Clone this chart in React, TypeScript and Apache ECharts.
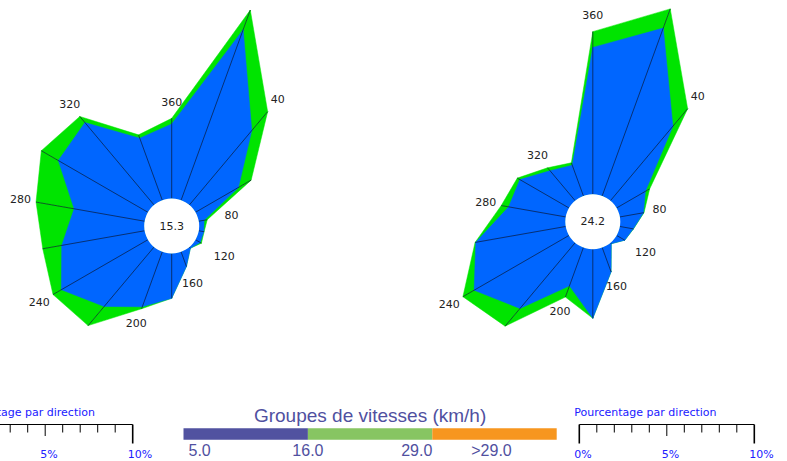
import React, { useEffect, useRef } from 'react';
import * as echarts from 'echarts';

// ---------- data ----------
const DIRECTIONS = [0, 20, 40, 60, 80, 100, 120, 140, 160, 180, 200, 220, 240, 260, 280, 300, 320, 340];

const LEFT_CALM = 15.3;
const LEFT_GROUP1 = [4.26, 10.37, 5.55, 2.83, 0.31, 0.29, 0.31, 0.09, 0.89, 2.56, 3.34, 4.43, 5.71, 4.81, 4.09, 5.91, 6.14, 3.77];
const LEFT_GROUP2 = [0.32, 1.19, 1.41, 0.84, 0.18, 0.02, 0.08, 0.0, 0.0, 0.0, 0.12, 1.43, 0.55, 1.1, 2.21, 1.12, 0.46, 0.2];

const RIGHT_CALM = 24.2;
const RIGHT_GROUP1 = [8.39, 10.2, 5.55, 1.9, 1.37, 0.78, 0.54, 0.07, 1.48, 3.95, 2.33, 4.9, 6.26, 5.22, 3.31, 3.24, 2.23, 1.86];
const RIGHT_GROUP2 = [0.9, 1.17, 1.31, 0.28, 0.03, 0.01, 0.0, 0.0, 0.0, 0.0, 0.68, 1.32, 0.74, 0.04, 0.43, 0.17, 0.22, 0.15];

const SPEED_TITLE = 'Groupes de vitesses (km/h)';
const SPEED_LABELS = ['5.0', '16.0', '29.0', '>29.0'];
const SPEED_COLORS = ['#5152a0', '#87c562', '#f7961f'];

const SCALE_TITLE = 'Pourcentage par direction';
const SCALE_TICKS = [0, 1, 2, 3, 4, 5, 6, 7, 8, 9, 10];
const SCALE_LABELLED = [0, 5, 10];

// ---------- layout / style ----------
const W = 787;
const H = 461;
const PX_PER_PCT = 17.5;
const HOLE_PX = 27.5;
const HOLE_PCT = HOLE_PX / PX_PER_PCT;
const R_MAX_PCT = 13;
const BLUE = '#0066ff';
const GREEN = '#00e400';
const DIR_FONT = '11px "DejaVu Sans"';
const SCALE_BLUE = '#2020ff';
const LEGEND_TEXT = '#5050a0';

const roseRender = (g1: number[], g2: number[]) => (params: any, api: any) => {
  const n = DIRECTIONS.length;
  const i = params.dataIndex;
  const j = (i + 1) % n;
  const a0 = DIRECTIONS[i];
  const a1 = DIRECTIONS[j];
  const t0 = g1[i] + g2[i];
  const t1 = g1[j] + g2[j];
  const p = (r: number, a: number) => api.coord([r, a]);
  const base0 = p(0, a0);
  const tip0 = p(t0, a0);
  return {
    type: 'group',
    children: [
      {
        type: 'polygon',
        z2: 0,
        shape: { points: [p(0, a0), p(t0, a0), p(t1, a1), p(0, a1)] },
        style: { fill: GREEN, stroke: GREEN, lineWidth: 0.5 },
      },
      {
        type: 'polygon',
        z2: 1,
        shape: { points: [p(0, a0), p(g1[i], a0), p(g1[j], a1), p(0, a1)] },
        style: { fill: BLUE, stroke: BLUE, lineWidth: 0.5 },
      },
      {
        type: 'line',
        z2: 2,
        shape: { x1: base0[0], y1: base0[1], x2: tip0[0], y2: tip0[1] },
        style: { stroke: '#0a0a30', lineWidth: 0.7, opacity: 0.9 },
      },
    ],
  };
};

const overlayRender = (g1: number[], g2: number[], calm: number) => (params: any, api: any) => {
  const i = params.dataIndex;
  const a = DIRECTIONS[i];
  const children: any[] = [];
  if (i === 0) {
    const c = api.coord([-HOLE_PCT, 0]);
    const e = api.coord([0, 0]);
    const r = Math.hypot(e[0] - c[0], e[1] - c[1]);
    children.push({ type: 'circle', shape: { cx: c[0], cy: c[1], r }, style: { fill: '#ffffff' } });
    children.push({
      type: 'text',
      style: {
        text: calm.toFixed(1), x: c[0], y: c[1], font: DIR_FONT, fill: '#222',
        align: 'center', verticalAlign: 'middle', textAlign: 'center', textVerticalAlign: 'middle',
      },
    });
  }
  if (a % 40 === 0) {
    const tot = g1[i] + g2[i];
    const lp = api.coord([Math.max(tot, 1) + 0.9, a]);
    children.push({
      type: 'text',
      style: {
        text: a === 0 ? '360' : String(a), x: lp[0], y: lp[1], font: DIR_FONT, fill: '#222',
        align: 'center', verticalAlign: 'middle', textAlign: 'center', textVerticalAlign: 'middle',
      },
    });
  }
  return { type: 'group', children };
};

const makeScaleBar = (x0: number): any[] => {
  const yLine = 424.5;
  const els: any[] = [];
  els.push({
    type: 'text',
    style: {
      text: SCALE_TITLE, x: x0 - 5, y: 412.5, font: '11px "DejaVu Sans"', fill: SCALE_BLUE,
      align: 'left', verticalAlign: 'middle', textAlign: 'left', textVerticalAlign: 'middle',
    },
  });
  els.push({
    type: 'line',
    shape: { x1: x0, y1: yLine, x2: x0 + 10 * PX_PER_PCT, y2: yLine },
    style: { stroke: '#000', lineWidth: 1 },
  });
  SCALE_TICKS.forEach((t) => {
    const x = x0 + t * PX_PER_PCT;
    const end = t === 0 || t === 10;
    const len = end ? 19 : t === 5 ? 11.5 : 8;
    els.push({
      type: 'line',
      shape: { x1: x, y1: yLine, x2: x, y2: yLine + len },
      style: { stroke: '#000', lineWidth: end ? 1.6 : 1 },
    });
  });
  SCALE_LABELLED.forEach((t) => {
    els.push({
      type: 'text',
      style: {
        text: t + '%', x: x0 + t * PX_PER_PCT - 5, y: 454.5, font: '11px "DejaVu Sans"', fill: SCALE_BLUE,
        align: 'left', verticalAlign: 'middle', textAlign: 'left', textVerticalAlign: 'middle',
      },
    });
  });
  return els;
};

const makeSpeedLegend = (): any[] => {
  const x0 = 183.5;
  const segW = 124.4;
  const y = 428.3;
  const els: any[] = [];
  els.push({
    type: 'text',
    style: {
      text: SPEED_TITLE, x: x0 + 1.5 * segW, y: 415.5, font: '19px "Liberation Sans"', fill: LEGEND_TEXT,
      align: 'center', verticalAlign: 'middle', textAlign: 'center', textVerticalAlign: 'middle',
    },
  });
  SPEED_COLORS.forEach((c, k) => {
    els.push({ type: 'rect', shape: { x: x0 + k * segW, y, width: segW, height: 11.5 }, style: { fill: c } });
  });
  const anchors = [
    { x: x0 + 5, align: 'left' },
    { x: x0 + segW, align: 'center' },
    { x: x0 + 2 * segW, align: 'right' },
    { x: x0 + 2.5 * segW - 3, align: 'center' },
  ];
  SPEED_LABELS.forEach((t, k) => {
    els.push({
      type: 'text',
      style: {
        text: t, x: anchors[k].x, y: 450, font: '16px "Liberation Sans"', fill: LEGEND_TEXT,
        align: anchors[k].align, verticalAlign: 'middle', textAlign: anchors[k].align, textVerticalAlign: 'middle',
      },
    });
  });
  return els;
};

const polarCfg = (center: number[]) => ({
  center,
  radius: (R_MAX_PCT + HOLE_PCT) * PX_PER_PCT,
});

const axisHidden = {
  show: false,
  axisLine: { show: false },
  axisTick: { show: false },
  axisLabel: { show: false },
  splitLine: { show: false },
};

export default function App() {
  const ref = useRef<HTMLDivElement>(null);
  useEffect(() => {
    if (!ref.current) return;
    const chart = echarts.init(ref.current, undefined, { renderer: 'svg' });
    const mkData = (g1: number[], g2: number[]) => DIRECTIONS.map((d, i) => [g1[i] + g2[i], d]);
    chart.setOption({
      animation: false,
      backgroundColor: '#ffffff',
      polar: [polarCfg([171.7, 226]), polarCfg([592.8, 221.7])],
      angleAxis: [
        { polarIndex: 0, type: 'value', min: 0, max: 360, startAngle: 90, clockwise: true, ...axisHidden },
        { polarIndex: 1, type: 'value', min: 0, max: 360, startAngle: 90, clockwise: true, ...axisHidden },
      ],
      radiusAxis: [
        { polarIndex: 0, type: 'value', min: -HOLE_PCT, max: R_MAX_PCT, ...axisHidden },
        { polarIndex: 1, type: 'value', min: -HOLE_PCT, max: R_MAX_PCT, ...axisHidden },
      ],
      series: [
        {
          type: 'custom', coordinateSystem: 'polar', polarIndex: 0, z: 2, clip: false, silent: true,
          renderItem: roseRender(LEFT_GROUP1, LEFT_GROUP2), data: mkData(LEFT_GROUP1, LEFT_GROUP2),
        },
        {
          type: 'custom', coordinateSystem: 'polar', polarIndex: 0, z: 3, clip: false, silent: true,
          renderItem: overlayRender(LEFT_GROUP1, LEFT_GROUP2, LEFT_CALM), data: mkData(LEFT_GROUP1, LEFT_GROUP2),
        },
        {
          type: 'custom', coordinateSystem: 'polar', polarIndex: 1, z: 2, clip: false, silent: true,
          renderItem: roseRender(RIGHT_GROUP1, RIGHT_GROUP2), data: mkData(RIGHT_GROUP1, RIGHT_GROUP2),
        },
        {
          type: 'custom', coordinateSystem: 'polar', polarIndex: 1, z: 3, clip: false, silent: true,
          renderItem: overlayRender(RIGHT_GROUP1, RIGHT_GROUP2, RIGHT_CALM), data: mkData(RIGHT_GROUP1, RIGHT_GROUP2),
        },
      ],
      graphic: [...makeScaleBar(-42.3), ...makeScaleBar(579.3), ...makeSpeedLegend()],
    });
    return () => chart.dispose();
  }, []);
  return <div ref={ref} style={{ position: 'absolute', left: 0, top: 0, width: W, height: H }} />;
}
